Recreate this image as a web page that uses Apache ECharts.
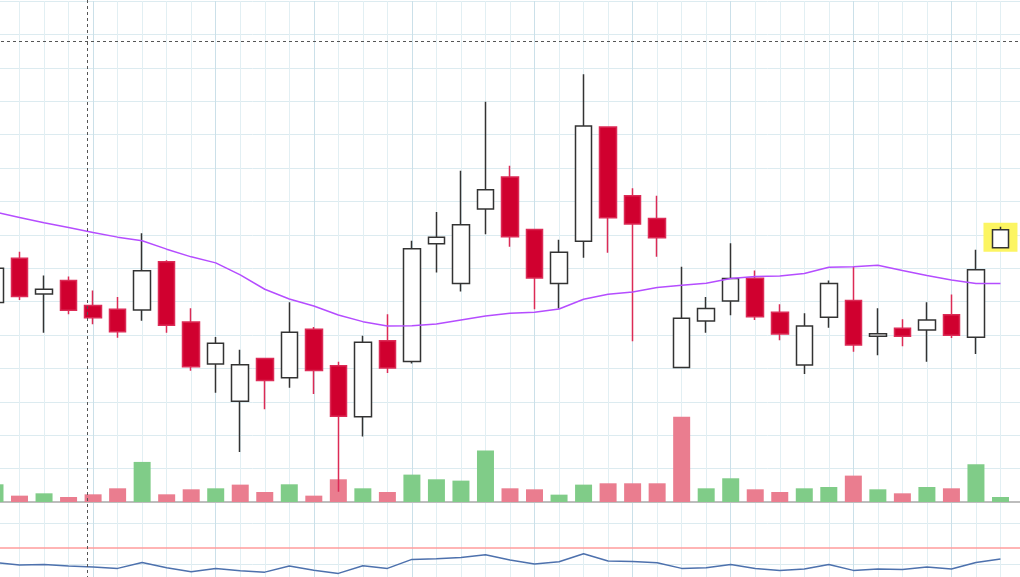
<!DOCTYPE html>
<html>
<head>
<meta charset="utf-8">
<style>
html,body{margin:0;padding:0;background:#fff;overflow:hidden;width:1020px;height:577px;position:relative;}
#chart{position:absolute;left:-5px;top:0;width:1030px;height:606px;}
</style>
<script src="https://cdn.jsdelivr.net/npm/echarts@6/dist/echarts.min.js"></script>
</head>
<body>
<div id="chart"></div>
<script>
// ---- data ----
const categories = ['1','2','3','4','5','6','7','8','9','10','11','12','13','14','15','16','17','18','19','20','21','22','23','24','25','26','27','28','29','30','31','32','33','34','35','36','37','38','39','40','41','42','43'];
const open  = [25.97,27.30,26.23,26.63,25.88,25.77,25.75,27.19,25.39,24.13,23.02,24.30,23.72,25.17,24.08,22.55,24.83,24.21,27.73,26.54,28.77,29.73,28.16,26.54,27.81,31.23,29.17,28.49,24.03,25.42,26.02,26.70,25.68,24.10,25.53,26.03,24.96,25.20,25.15,25.61,24.93,27.61];
const close = [27.00,26.15,26.37,25.74,25.52,25.10,26.92,25.29,24.05,24.75,24.11,23.64,25.08,23.94,22.57,24.78,24.01,27.58,27.93,28.30,29.35,27.94,26.71,27.48,31.26,28.51,28.32,27.91,25.50,25.79,26.69,25.55,25.03,25.27,26.54,24.70,25.04,24.96,25.45,24.99,26.95,28.15];
const high  = [27.10,27.49,26.78,26.75,26.33,26.14,28.05,27.24,25.80,24.94,24.56,24.30,25.98,25.24,24.20,24.98,25.62,27.82,28.68,29.92,31.98,30.07,28.18,27.85,32.81,31.23,29.39,29.17,27.04,26.14,27.75,26.93,25.92,25.65,26.63,27.04,25.80,25.47,25.98,26.21,27.55,28.24];
const low   = [25.90,26.05,25.07,25.62,25.32,24.92,25.43,25.07,23.93,23.27,21.50,22.78,23.42,23.23,20.31,21.96,23.86,24.15,26.87,26.30,28.02,27.64,25.77,25.79,27.31,27.46,24.81,27.34,24.03,25.07,25.59,25.45,24.84,23.83,25.22,24.50,24.39,24.66,24.20,24.91,24.43,27.61];
const volume = [530,190,260,150,230,410,1200,230,380,410,520,300,530,190,680,410,300,820,680,640,1540,410,380,220,520,560,560,560,2550,410,710,380,300,410,450,790,380,260,450,410,1130,150];
const ma    = [28.68,28.52,28.36,28.22,28.07,27.93,27.82,27.57,27.34,27.16,26.80,26.37,26.08,25.87,25.60,25.40,25.27,25.28,25.33,25.45,25.57,25.65,25.68,25.78,26.07,26.22,26.29,26.42,26.49,26.55,26.69,26.75,26.77,26.84,27.03,27.04,27.09,26.93,26.78,26.65,26.54,26.54];
const rsi   = [52.4,49.2,50.0,48.0,46.8,45.2,52.4,45.9,41.1,45.2,42.3,40.7,48.0,43.1,39.2,48.3,45.2,56.0,56.7,58.4,61.5,55.2,50.4,53.1,62.7,54.0,53.6,51.9,45.2,45.9,50.0,45.2,42.8,44.4,50.0,42.8,44.4,44.0,46.8,44.4,52.4,56.4];
const weekMarks = [4,9,13,17,22,26,30,35,39];
const crosshairPrice = 33.80;
const rsiLevel = 70;
const highlightIndex = 41;

// ---- build ----
const candleData = open.map((o, i) => [o, close[i], low[i], high[i]]);
const volData = volume.map((v, i) => {
  const up = i === 0 ? close[i] >= open[i] : close[i] >= close[i - 1];
  return { value: v, itemStyle: { color: up ? '#80cc88' : '#ea7d8f' } };
});
const gridLine = '#e2eff3';
const markLines = weekMarks.map(i => ({ xAxis: i }));

const chart = echarts.init(document.getElementById('chart'), null, { renderer: 'canvas' });
const option = {
  animation: false,
  backgroundColor: '#ffffff',
  grid: [
    { left: 0, right: 0, top: 1, bottom: 104 },
    { left: 0, right: 0, top: 502, bottom: 0 }
  ],
  xAxis: [
    { type: 'category', data: categories, gridIndex: 0, boundaryGap: false,
      axisLine: { show: false }, axisTick: { show: false }, axisLabel: { show: false },
      splitLine: { show: true, interval: 0, lineStyle: { color: gridLine, width: 1 } } },
    { type: 'category', data: categories, gridIndex: 1, boundaryGap: false,
      axisLine: { show: false }, axisTick: { show: false }, axisLabel: { show: false },
      splitLine: { show: true, interval: 0, lineStyle: { color: gridLine, width: 1 } } }
  ],
  yAxis: [
    { type: 'value', gridIndex: 0, min: 20, max: 35, interval: 1,
      axisLine: { show: false }, axisTick: { show: false }, axisLabel: { show: false },
      splitLine: { show: true, lineStyle: { color: '#dcebf0', width: 1 } } },
    { type: 'value', gridIndex: 0, min: 0, max: 15000, show: false, splitLine: { show: false } },
    { type: 'value', gridIndex: 1, min: 0, max: 125, interval: 50,
      axisLine: { show: false }, axisTick: { show: false }, axisLabel: { show: false },
      splitLine: { show: true, lineStyle: { color: '#dcebf0', width: 1 } } }
  ],
  series: [
    { // darker periodic grid lines, price panel
      type: 'line', xAxisIndex: 0, yAxisIndex: 0, data: [], z: 1, silent: true,
      markLine: { z: 1, silent: true, symbol: ['none', 'none'], label: { show: false },
        lineStyle: { color: '#cbe0e9', width: 1, type: 'solid' }, data: markLines }
    },
    { // darker periodic grid lines, lower panel
      type: 'line', xAxisIndex: 1, yAxisIndex: 2, data: [], z: 1, silent: true,
      markLine: { z: 1, silent: true, symbol: ['none', 'none'], label: { show: false },
        lineStyle: { color: '#cbe0e9', width: 1, type: 'solid' }, data: markLines }
    },
    {
      type: 'bar', name: 'Volume', xAxisIndex: 0, yAxisIndex: 1, data: volData,
      barWidth: 17, z: 2, silent: true,
      markLine: { z: 2, silent: true, symbol: ['none', 'none'], label: { show: false },
        lineStyle: { color: '#bdbdbd', width: 2, type: 'solid' }, data: [{ yAxis: 0 }] }
    },
    {
      type: 'scatter', xAxisIndex: 0, yAxisIndex: 0, z: 2, silent: true,
      symbol: 'rect', symbolSize: [34, 29],
      itemStyle: { color: '#fcf562', opacity: 1 },
      data: [[highlightIndex, (low[highlightIndex] + high[highlightIndex]) / 2]]
    },
    {
      type: 'candlestick', name: 'Price', xAxisIndex: 0, yAxisIndex: 0, data: candleData,
      barWidth: 17, z: 3, silent: true,
      itemStyle: { color: '#ffffff', color0: '#d0002f', borderColor: '#333333', borderColor0: '#dc2b56', borderWidth: 1.5 },
      markLine: { z: 6, silent: true, symbol: ['none', 'none'], label: { show: false },
        lineStyle: { color: '#555555', width: 1, type: [3, 3] }, data: [{ yAxis: crosshairPrice }] }
    },
    {
      type: 'line', name: 'MA', xAxisIndex: 0, yAxisIndex: 0, data: ma, z: 4,
      symbol: 'none', smooth: false, silent: true,
      lineStyle: { color: '#b54dff', width: 1.5 }
    },
    {
      type: 'line', name: 'RSI', xAxisIndex: 1, yAxisIndex: 2, data: rsi, z: 4,
      symbol: 'none', smooth: false, silent: true,
      lineStyle: { color: '#4d71ad', width: 1.5 },
      markLine: { z: 3, silent: true, symbol: ['none', 'none'], label: { show: false },
        lineStyle: { color: '#ff9c9c', width: 1.5, type: 'solid' }, data: [{ yAxis: rsiLevel }] }
    }
  ],
  graphic: [
    { type: 'line', z: 100, silent: true,
      shape: { x1: 92.5, y1: 0, x2: 92.5, y2: 606 },
      style: { stroke: '#555555', lineWidth: 1, lineDash: [3, 3] } }
  ]
};
chart.setOption(option);
</script>
</body>
</html>
